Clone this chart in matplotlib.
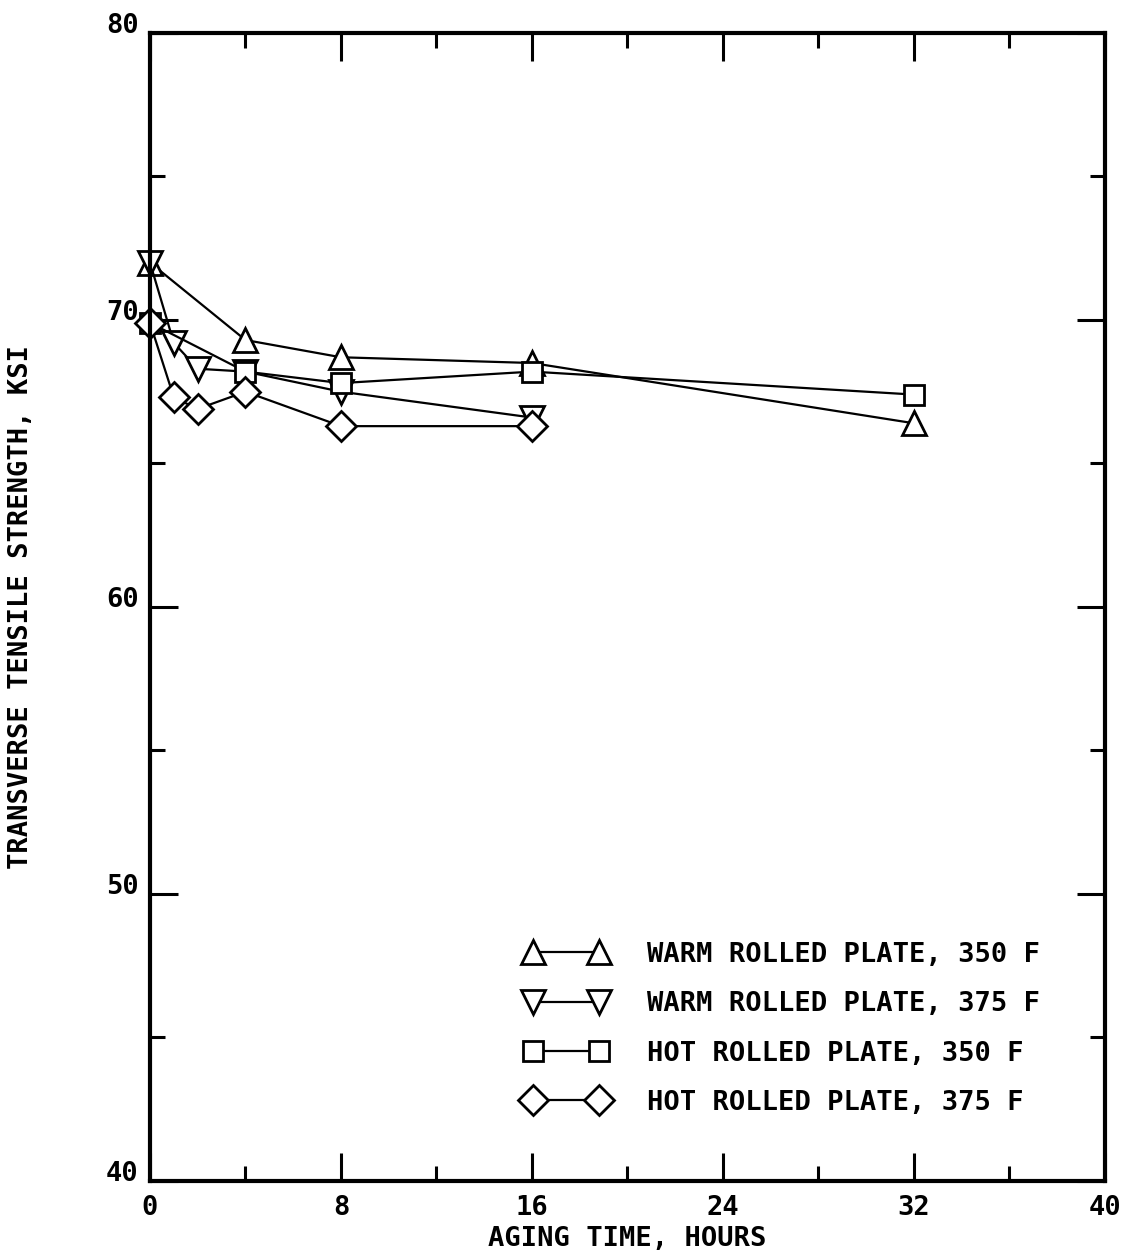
import matplotlib
matplotlib.use("Agg")
import matplotlib.pyplot as plt
from matplotlib.ticker import MultipleLocator

plt.rcParams['font.family'] = ['DejaVu Sans Mono']
plt.rcParams['font.size'] = 19.5
plt.rcParams['font.weight'] = 'bold'
plt.rcParams['axes.labelweight'] = 'bold'

# Aging time (hours) and transverse tensile strength (ksi) per series.
hours_warm_350 = [0, 4, 8, 16, 32]
ksi_warm_350 = [72.0, 69.3, 68.7, 68.5, 66.4]

hours_warm_375 = [0, 1, 2, 4, 8, 16]
ksi_warm_375 = [72.0, 69.2, 68.3, 68.2, 67.5, 66.6]

hours_hot_350 = [0, 4, 8, 16, 32]
ksi_hot_350 = [69.9, 68.2, 67.8, 68.2, 67.4]

hours_hot_375 = [0, 1, 2, 4, 8, 16]
ksi_hot_375 = [69.9, 67.3, 66.9, 67.5, 66.3, 66.3]

labels = ["WARM ROLLED PLATE, 350 F",
          "WARM ROLLED PLATE, 375 F",
          "HOT ROLLED PLATE, 350 F",
          "HOT ROLLED PLATE, 375 F"]

fig = plt.figure(figsize=(11.26, 12.53), dpi=100)
ax = fig.add_axes([0.1332, 0.0575, 0.8481, 0.9162])

style = dict(color="black", lw=1.6, mfc="white", mec="black", mew=2.0,
             clip_on=False)
ax.plot(hours_warm_350, ksi_warm_350, marker="^", ms=17, label=labels[0], **style)
ax.plot(hours_warm_375, ksi_warm_375, marker="v", ms=17, label=labels[1], **style)
ax.plot(hours_hot_350, ksi_hot_350, marker="s", ms=15, label=labels[2], **style)
ax.plot(hours_hot_375, ksi_hot_375, marker="D", ms=15, label=labels[3], **style)

# Prettify plot.
ax.set_xlim(0, 40)
ax.set_ylim(40, 80)
ax.xaxis.set_major_locator(MultipleLocator(8))
ax.xaxis.set_minor_locator(MultipleLocator(4))
ax.yaxis.set_major_locator(MultipleLocator(10))
ax.yaxis.set_minor_locator(MultipleLocator(5))
ax.tick_params(which="both", direction="in", top=True, right=True, width=2.2)
ax.tick_params(which="major", length=20)
ax.tick_params(which="minor", length=11)
ax.tick_params(axis="x", which="major", pad=10)
ax.tick_params(axis="y", which="major", pad=8)
for lab in ax.get_yticklabels():
    lab.set_verticalalignment("baseline")
for sp in ax.spines.values():
    sp.set_linewidth(3.0)

ax.set_xlabel("AGING TIME, HOURS", labelpad=4)
ax.set_ylabel("TRANSVERSE TENSILE STRENGTH, KSI", labelpad=52)

ax.legend(loc="upper left", bbox_to_anchor=(0.3785, 0.220), numpoints=2,
          frameon=False, borderpad=0, handlelength=3.05, handletextpad=1.45,
          labelspacing=0.86, fontsize=19.5)

fig.savefig("out.png", dpi=100)
